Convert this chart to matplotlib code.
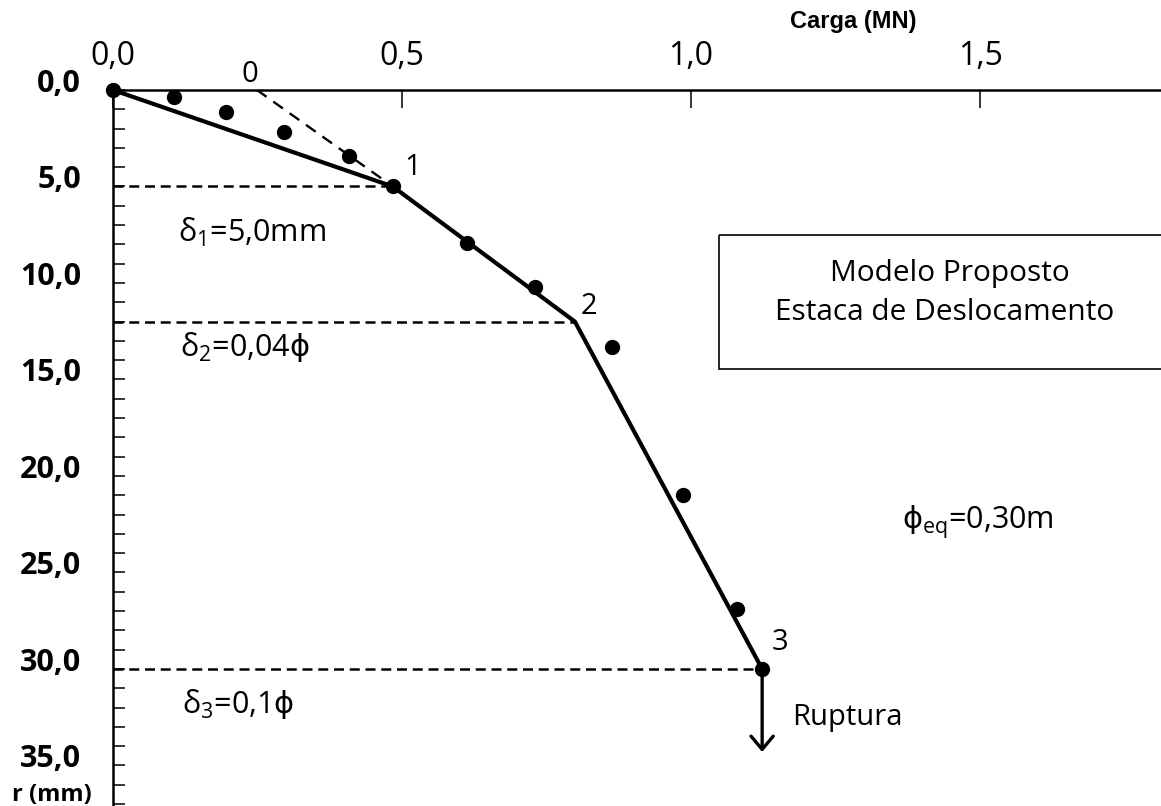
#curva carga x recalque - modelo proposto (estaca de deslocamento)

import matplotlib
matplotlib.use('Agg')
import matplotlib.pyplot as plt
from matplotlib.patches import Rectangle
from matplotlib.transforms import ScaledTranslation

#dados lidos do grafico
#pontos do ensaio (carga em MN, recalque em mm)
carga_ensaio = [0.0, 0.106, 0.196, 0.296, 0.408, 0.484, 0.612, 0.730, 0.863, 0.986, 1.080, 1.123]
recalque_ensaio = [0.0, 0.36, 1.14, 2.18, 3.42, 5.0, 7.93, 10.2, 13.3, 21.0, 26.9, 30.0]

#modelo proposto (trechos 0-1-2-3)
carga_modelo = [0.0, 0.484, 0.799, 1.123]
recalque_modelo = [0.0, 5.0, 12.0, 30.0]
rotulos_modelo = ['1', '2', '3']

#reta tracejada que parte do ponto "0"
carga_tangente = [0.249, 0.484]
recalque_tangente = [0.0, 5.0]

#limites de deslocamento
rotulos_delta = [r'$\mathrm{\delta_1}$=5,0mm',
                 r'$\mathrm{\delta_2}$=0,04$\mathsf{\phi}$',
                 r'$\mathrm{\delta_3}$=0,1$\mathsf{\phi}$']

recalque_ruptura = 34.3

xticks = [0.0, 0.5, 1.0, 1.5]
yticks = [0, 5, 10, 15, 20, 25, 30, 35]

#fontes
plt.rcParams['font.family'] = ['Open Sans', 'DejaVu Sans']
plt.rcParams['mathtext.fontset'] = 'custom'
plt.rcParams['mathtext.rm'] = 'Open Sans'
plt.rcParams['mathtext.it'] = 'Open Sans:italic'
plt.rcParams['mathtext.bf'] = 'Open Sans:bold'
plt.rcParams['mathtext.sf'] = 'DejaVu Sans'

fig = plt.figure(figsize=(11.61, 8.06), dpi=100)
ax = fig.add_axes([113 / 1161, 0, 1048 / 1161, 716 / 806])

ax.set_xlim(0, 1.813)
ax.set_ylim(37.1, 0)

#eixos: so o de cima e o da esquerda
ax.spines['right'].set_visible(False)
ax.spines['bottom'].set_visible(False)
ax.spines['top'].set_linewidth(1.8)
ax.spines['left'].set_linewidth(1.8)

ax.xaxis.tick_top()
ax.set_xticks(xticks)
ax.set_xticklabels([('%.1f' % v).replace('.', ',') for v in xticks])
ax.tick_params(axis='x', direction='in', length=13, width=1.1, pad=12, labelsize=23)

ax.set_yticks(yticks)
ax.set_yticks(range(0, 38), minor=True)
ax.set_yticklabels([('%.1f' % v).replace('.', ',') for v in yticks], fontweight='bold')
ax.tick_params(axis='y', which='both', direction='in', length=8.5, width=1.1, pad=23, labelsize=22)
ax.tick_params(axis='y', which='minor', labelleft=False)

#rotulos do eixo y ficam um pouco acima dos tracos
desloc = ScaledTranslation(0, 7 / 72, fig.dpi_scale_trans)
for lbl in ax.get_yticklabels():
    lbl.set_transform(lbl.get_transform() + desloc)

ax.xaxis.set_label_position('top')
ax.set_xlabel('Carga (MN)', family='Liberation Sans', fontweight='bold', fontsize=17)
ax.xaxis.set_label_coords(0.706, 1.087)
ax.set_ylabel('r (mm)', rotation=0, ha='right', va='center', fontweight='bold', fontsize=17)
ax.yaxis.set_label_coords(-0.02, 0.016)

#linhas tracejadas horizontais ate os pontos 1, 2 e 3
for c, r in zip(carga_modelo[1:], recalque_modelo[1:]):
    ax.plot([0, c], [r, r], color='black', lw=1.8, dashes=(4, 2.3))

#reta tracejada a partir do ponto 0
ax.plot(carga_tangente, recalque_tangente, color='black', lw=1.7, dashes=(5, 3.5))

#modelo
ax.plot(carga_modelo, recalque_modelo, color='black', lw=3.0, solid_joinstyle='miter')

#ensaio
ax.plot(carga_ensaio, recalque_ensaio, 'o', color='black', ms=10, clip_on=False, zorder=5)

#numeros dos pontos
offsets = [(14, 14), (10, 11), (13, 19)]
for c, r, t, off in zip(carga_modelo[1:], recalque_modelo[1:], rotulos_modelo, offsets):
    ax.annotate(t, (c, r), xytext=off, textcoords='offset points',
                ha='center', va='center', fontsize=21)

ax.annotate('0', (carga_tangente[0], recalque_tangente[0]), xytext=(-5, 11),
            textcoords='offset points', ha='center', va='center', fontsize=21,
            annotation_clip=False)

#textos dos deslocamentos
pos_delta = [(0.112, 7.4), (0.116, 13.3), (0.119, 31.8)]
for (x, y), t in zip(pos_delta, rotulos_delta):
    ax.text(x, y, t, ha='left', va='center', fontsize=22)

#ruptura
ax.annotate('', xy=(carga_modelo[-1], recalque_ruptura),
            xytext=(carga_modelo[-1], recalque_modelo[-1]),
            arrowprops=dict(arrowstyle='->,head_length=0.95,head_width=0.8',
                            lw=2.4, color='black', shrinkA=0, shrinkB=0,
                            mutation_scale=10))
ax.text(1.175, 32.5, 'Ruptura', ha='left', va='center', fontsize=21)

#caixa do modelo
caixa = Rectangle((1.048, 7.51), 1.0, 6.95, fill=False, lw=1.2, ec='black')
ax.add_patch(caixa)
ax.text(1.448, 9.5, 'Modelo Proposto', ha='center', va='center', fontsize=21.5)
ax.text(1.439, 11.55, 'Estaca de Deslocamento', ha='center', va='center', fontsize=21.5)

ax.text(1.365, 22.4, r'$\mathsf{\phi}_{\mathrm{eq}}$=0,30m', ha='left', va='center', fontsize=22)

plt.savefig('out.png', dpi=100)
